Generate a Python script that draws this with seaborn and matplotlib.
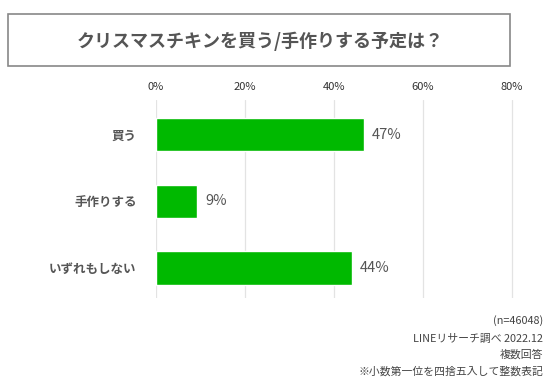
import matplotlib
matplotlib.use('Agg')
import matplotlib.pyplot as plt
import matplotlib.patches as mpatches
import seaborn as sns
import pandas as pd

TITULO = 'クリスマスチキンを買う/手作りする予定は？'
CATEGORIAS = ['買う', '手作りする', 'いずれもしない']
VALORES = [46.8, 9.2, 44.1]
TICKS = [0, 20, 40, 60, 80]
NOTAS = ['(n=46048)', 'LINEリサーチ調べ 2022.12', '複数回答', '※小数第一位を四捨五入して整数表記']

VERDE = '#00b900'
CINZA = '#555555'

sns.set_theme(style='white')
plt.rcParams['font.family'] = ['Noto Sans CJK JP', 'DejaVu Sans']

df = pd.DataFrame({'cat': CATEGORIAS, 'val': VALORES})

fig = plt.figure(figsize=(5.6, 3.8), dpi=100)
fig.patch.set_facecolor('white')

# caixa do titulo
fig.patches.append(mpatches.Rectangle((8 / 560, 1 - 66 / 380), 502 / 560, 52 / 380,
                                      transform=fig.transFigure, fill=False,
                                      edgecolor='#888888', linewidth=1.2))
fig.text(260 / 560, 1 - 41 / 380, TITULO, ha='center', va='center',
         fontsize=13, fontweight='bold', color=CINZA)

ax = fig.add_axes([156 / 560, 1 - 298 / 380, 389 / 560, 198 / 380])
sns.barplot(data=df, x='val', y='cat', orient='h', color=VERDE, width=0.5,
            saturation=1, ax=ax)

for i, v in enumerate(VALORES):
    ax.text(v + 1.8, i, f'{v:.0f}%', va='center', ha='left', fontsize=10.5, color=CINZA)

ax.set_xlim(0, 87.5)
ax.set_ylim(2.45, -0.52)
ax.set_xticks(TICKS)
ax.set_xticklabels([f'{t}%' for t in TICKS], fontsize=8, color='#333333')
ax.xaxis.tick_top()
ax.tick_params(axis='x', length=0, pad=6)
ax.tick_params(axis='y', length=0, pad=14)
for lbl in ax.get_yticklabels():
    lbl.set_fontsize(9)
    lbl.set_fontweight('bold')
    lbl.set_color(CINZA)
ax.set_xlabel('')
ax.set_ylabel('')
ax.grid(True, axis='x', color='#e3e3e3', linewidth=0.9)
ax.set_axisbelow(True)
for s in ax.spines.values():
    s.set_visible(False)

ys = [321, 339, 355, 371]
for txt, y in zip(NOTAS, ys):
    fig.text(543 / 560, 1 - y / 380, txt, ha='right', va='center', fontsize=7.8, color='#444444')

fig.savefig('out.png', dpi=100, facecolor='white')
